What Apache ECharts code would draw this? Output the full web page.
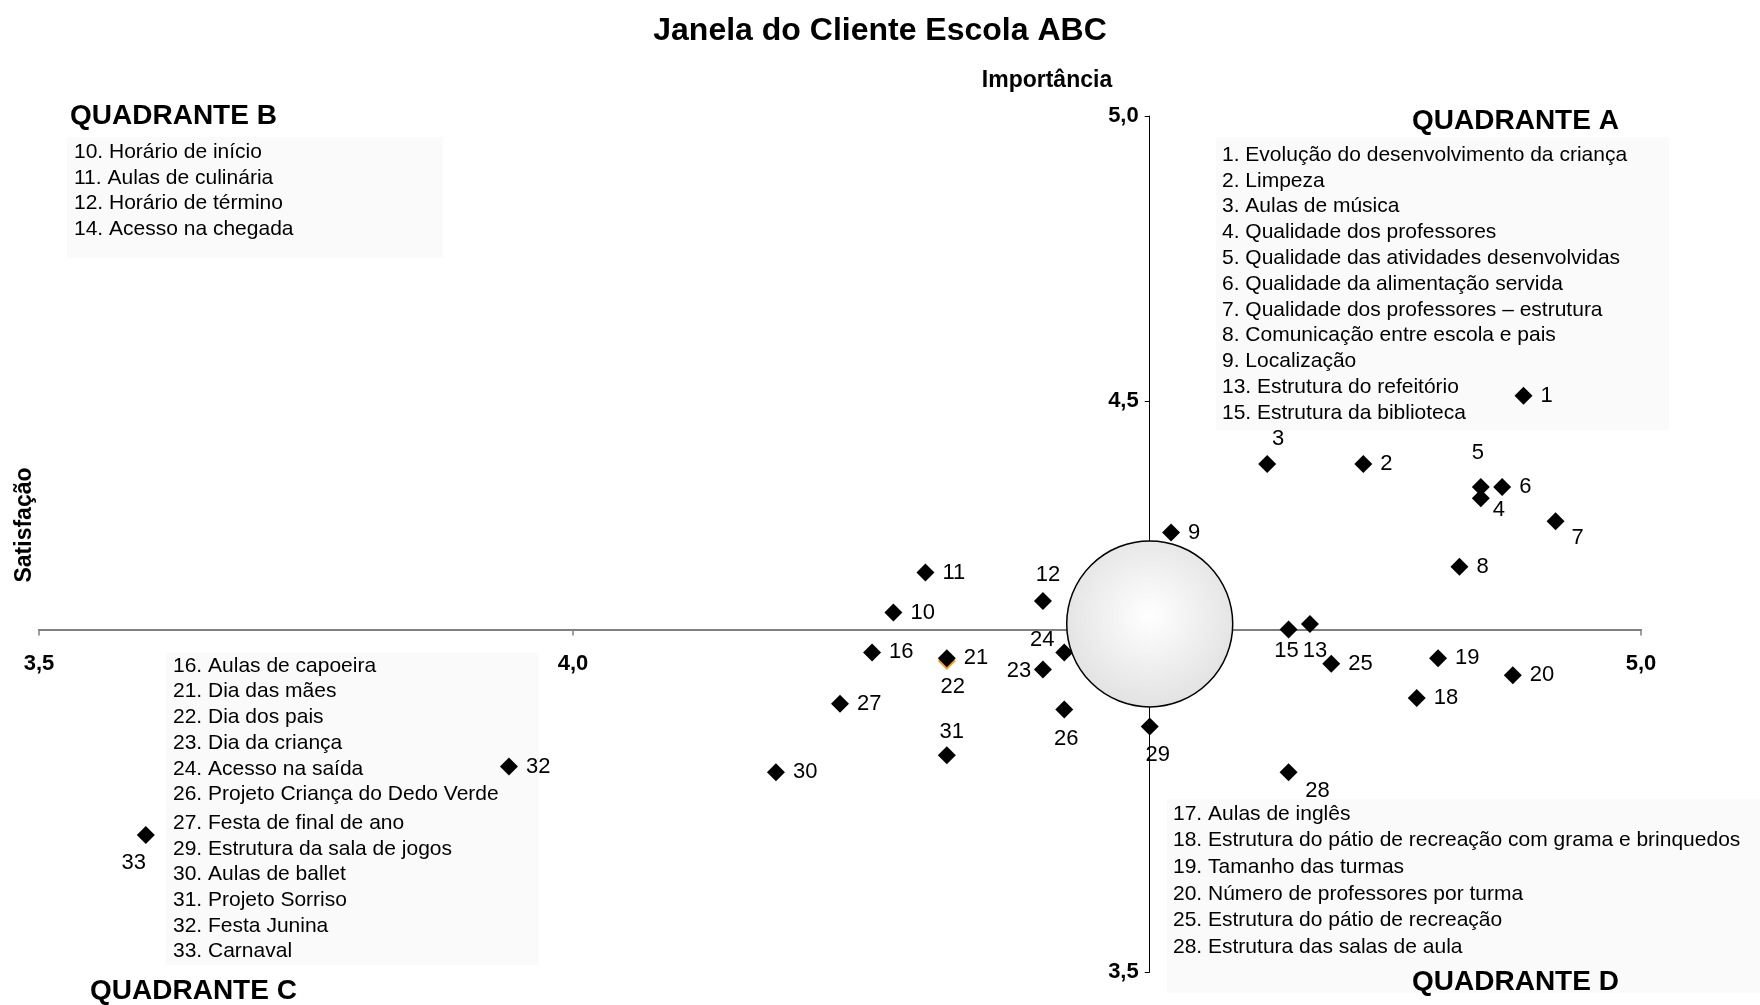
<!DOCTYPE html>
<html>
<head>
<meta charset="utf-8">
<title>Janela do Cliente Escola ABC</title>
<script src="https://cdn.jsdelivr.net/npm/echarts@6/dist/echarts.min.js"></script>
<style>
  html, body { margin: 0; padding: 0; background: #fff; }
  #chart { width: 1760px; height: 1005px; }
</style>
</head>
<body>
<div id="chart"></div>
<script>
// itens avaliados (22 fica por baixo do 21)
const itens = ["1", "2", "3", "4", "5", "6", "7", "8", "9", "10", "11", "12", "13", "15", "16",
  "18", "19", "20", "22", "21", "23", "24", "25", "26", "27", "28", "29", "30", "31", "32", "33"];
// eixo horizontal
const satisfacao = [4.89, 4.74, 4.65, 4.85, 4.85, 4.87, 4.92, 4.83, 4.56, 4.30, 4.33, 4.44, 4.69, 4.67, 4.28,
  4.79, 4.81, 4.88, 4.35, 4.35, 4.44, 4.46, 4.71, 4.46, 4.25, 4.67, 4.54, 4.19, 4.35, 3.94, 3.60];
// eixo vertical
const importancia = [4.51, 4.39, 4.39, 4.33, 4.35, 4.35, 4.29, 4.21, 4.27, 4.13, 4.20, 4.15, 4.11, 4.10, 4.06,
  3.98, 4.05, 4.02, 4.045, 4.05, 4.03, 4.06, 4.04, 3.96, 3.97, 3.85, 3.93, 3.85, 3.88, 3.86, 3.74];

// ponto de cruzamento dos eixos e centro do círculo
const cruzamento = [4.54, 4.10];
const centro = [4.54, 4.11];

const xLabels = ["3,5", "4,0", "5,0"];
const yLabels = ["5,0", "4,5", "3,5"];

const quadA = ["1. Evolução do desenvolvimento da criança", "2. Limpeza", "3. Aulas de música",
  "4. Qualidade dos professores", "5. Qualidade das atividades desenvolvidas",
  "6. Qualidade da alimentação servida", "7. Qualidade dos professores – estrutura",
  "8. Comunicação entre escola e pais", "9. Localização", "13. Estrutura do refeitório",
  "15. Estrutura da biblioteca"];
const quadB = ["10. Horário de início", "11. Aulas de culinária", "12. Horário de término", "14. Acesso na chegada"];
const quadC = ["16. Aulas de capoeira", "21. Dia das mães", "22. Dia dos pais", "23. Dia da criança",
  "24. Acesso na saída", "26. Projeto Criança do Dedo Verde", "27. Festa de final de ano",
  "29. Estrutura da sala de jogos", "30. Aulas de ballet", "31. Projeto Sorriso", "32. Festa Junina", "33. Carnaval"];
const quadD = ["17. Aulas de inglês", "18. Estrutura do pátio de recreação com grama e brinquedos",
  "19. Tamanho das turmas", "20. Número de professores por turma", "25. Estrutura do pátio de recreação",
  "28. Estrutura das salas de aula"];

// rótulos que não ficam à direita do marcador: deslocamento do centro
const rotuloDesloc = {
  "3": [11, -25], "5": [-3, -34], "4": [18, 12], "7": [22, 17], "12": [5, -26],
  "13": [5, 27], "15": [-2, 21], "22": [6, 26], "23": [-24, 1], "24": [-22, -12],
  "26": [2, 29], "28": [29, 19], "29": [8, 28], "31": [5, -23], "33": [-12, 28]
};

const FONT = '"Liberation Sans", Arial, sans-serif';
const grid = { left: 39, right: 119, top: 116, bottom: 33 };
const gridW = 1760 - grid.left - grid.right;
const gridH = 1005 - grid.top - grid.bottom;
const xMin = 3.5, xMax = 5.0, yMin = 3.5, yMax = 5.0;

const fmt = v => v.toFixed(1).replace(".", ",");

const pontos = itens.map((id, i) => {
  const p = { name: id, value: [satisfacao[i], importancia[i]] };
  if (id === "22") p.itemStyle = { color: "#f0a030" };
  const d = rotuloDesloc[id];
  p.label = d ? { position: "inside", offset: d } : { position: "right", distance: 8 };
  return p;
});

const graphics = [];
function texto(txt, x, y, font, align, extra) {
  graphics.push(Object.assign({
    type: "text", x: x, y: y, z: 1,
    style: { text: txt, font: font, fill: "#000", align: align || "left", verticalAlign: "middle" }
  }, extra || {}));
}
function caixa(x, y, w, h) {
  graphics.push({ type: "rect", z: 0, shape: { x: x, y: y, width: w, height: h },
    style: { fill: "#fafafa" } });
}
const fItem = "21px " + FONT;
const fQuad = "bold 28px " + FONT;

caixa(1216, 137, 453, 293);
quadA.forEach((t, i) => texto(t, 1222, 155 + i * 25.8, fItem));
caixa(67, 137, 376, 121);
quadB.forEach((t, i) => texto(t, 74, 152 + i * 25.8, fItem));
caixa(166, 653, 373, 312);
quadC.forEach((t, i) => texto(t, 173, 666 + i * 25.7 + (i >= 6 ? 3 : 0), fItem));
caixa(1167, 799, 593, 194);
quadD.forEach((t, i) => texto(t, 1173, 814 + i * 26.6, fItem));

texto("QUADRANTE A", 1412, 121, fQuad);
texto("QUADRANTE B", 70, 116, fQuad);
texto("QUADRANTE C", 90, 991, fQuad);
texto("QUADRANTE D", 1412, 982, fQuad);
texto("Importância", 1047, 81, "bold 23px " + FONT, "center");
texto("Satisfação", 25, 525, "bold 23px " + FONT, "center", { rotation: Math.PI / 2 });

const chart = echarts.init(document.getElementById("chart"));
chart.setOption({
  animation: false,
  backgroundColor: "#fff",
  title: {
    text: "Janela do Cliente Escola ABC",
    left: "center", top: 10,
    textStyle: { fontFamily: FONT, fontSize: 32, fontWeight: "bold", color: "#000" }
  },
  grid: Object.assign({ outerBoundsMode: "none", containLabel: false }, grid),
  xAxis: {
    type: "value", min: xMin, max: xMax, interval: 0.5, position: "bottom",
    offset: -(cruzamento[1] - yMin) / (yMax - yMin) * gridH,
    axisLine: { onZero: false, lineStyle: { color: "#808080", width: 2 } },
    axisTick: { show: true, length: 6, lineStyle: { color: "#808080", width: 1.5 } },
    axisLabel: {
      margin: 23, showMinLabel: true, showMaxLabel: true,
      fontFamily: FONT, fontSize: 22, fontWeight: "bold", color: "#000",
      formatter: v => xLabels.includes(fmt(v)) ? fmt(v) : ""
    },
    splitLine: { show: false }
  },
  yAxis: {
    type: "value", min: yMin, max: yMax, interval: 0.5, position: "left",
    offset: -(cruzamento[0] - xMin) / (xMax - xMin) * gridW,
    axisLine: { onZero: false, lineStyle: { color: "#000", width: 1 } },
    axisTick: { show: true, length: 5, lineStyle: { color: "#000", width: 1 } },
    axisLabel: {
      margin: 11, showMinLabel: true, showMaxLabel: true,
      fontFamily: FONT, fontSize: 22, fontWeight: "bold", color: "#000",
      formatter: v => yLabels.includes(fmt(v)) ? fmt(v) : ""
    },
    splitLine: { show: false }
  },
  series: [
    {
      type: "scatter", z: 3,
      symbol: "diamond", symbolSize: 18,
      itemStyle: { color: "#000", opacity: 1 },
      label: {
        show: true, formatter: "{b}",
        fontFamily: FONT, fontSize: 22, color: "#000"
      },
      data: pontos
    },
    {
      type: "scatter", z: 5, silent: true,
      symbol: "circle", symbolSize: 166,
      itemStyle: {
        opacity: 1,
        color: {
          type: "radial", x: 0.5, y: 0.45, r: 0.55,
          colorStops: [{ offset: 0, color: "#ffffff" }, { offset: 1, color: "#e2e2e2" }]
        },
        borderColor: "#000", borderWidth: 1.5
      },
      data: [centro]
    }
  ],
  graphic: graphics
});
</script>
</body>
</html>
